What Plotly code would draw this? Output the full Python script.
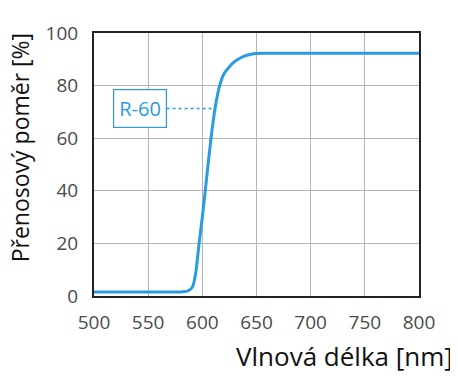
import plotly.graph_objects as go

# Data
wavelength = [500, 520, 540, 560, 575, 582, 587, 591, 594, 597, 600, 604, 608, 612, 616, 620, 625, 630, 635, 640, 645, 650, 655, 660, 700, 750, 800]
transmission = [1.5, 1.5, 1.5, 1.5, 1.5, 1.6, 2.0, 3.5, 9, 20, 30, 45, 60, 72, 80, 84.5, 87.2, 89.2, 90.5, 91.4, 91.9, 92.2, 92.3, 92.3, 92.3, 92.3, 92.3]
x_ticks = [500, 550, 600, 650, 700, 750, 800]
y_ticks = [0, 20, 40, 60, 80, 100]
label_text = "R-60"
label_wl = [567, 611]
label_val = [71.3, 71.3]

blue = "#2a9be0"
font = "Open Sans"

fig = go.Figure()
fig.add_trace(go.Scatter(x=label_wl, y=label_val, mode="lines",
                         line=dict(color=blue, width=1.5, dash="dot"), hoverinfo="skip"))
fig.add_trace(go.Scatter(x=wavelength, y=transmission, mode="lines",
                         line=dict(color=blue, width=3, shape="spline", smoothing=0.6)))

fig.add_annotation(x=label_wl[0], y=label_val[0], xref="x", yref="y", xanchor="right", yanchor="middle",
                   text=label_text, showarrow=False, font=dict(family=font, size=20, color=blue),
                   bordercolor=blue, borderwidth=1.2, borderpad=5, bgcolor="white")

fig.add_annotation(x=-0.225, y=0.565, xref="paper", yref="paper", text="Přenosový poměr [%]",
                   textangle=-90, showarrow=False, font=dict(family=font, size=23, color="#111"),
                   xanchor="center", yanchor="middle")
fig.add_annotation(x=1.11, y=-0.23, xref="paper", yref="paper", text="Vlnová délka [nm]",
                   showarrow=False, font=dict(family=font, size=26, color="#111"),
                   xanchor="right", yanchor="middle")

fig.update_layout(
    width=458, height=376, showlegend=False,
    margin=dict(l=86, r=47, t=23, b=88),
    plot_bgcolor="white", paper_bgcolor="white",
    font=dict(family=font, size=19, color="#555"),
)
fig.update_xaxes(range=[500, 800], tickvals=x_ticks, showgrid=True, gridcolor="#b5b5b5", gridwidth=1,
                 showline=True, linecolor="#222", linewidth=2, mirror=True, ticks="", ticklen=0,
                 ticklabelstandoff=8, zeroline=False, tickfont=dict(size=19, color="#4a4a4a"))
fig.update_yaxes(range=[0, 100], tickvals=y_ticks, showgrid=True, gridcolor="#b5b5b5", gridwidth=1,
                 showline=True, linecolor="#222", linewidth=2, mirror=True, ticks="", ticklen=0,
                 ticklabelstandoff=10, zeroline=False, tickfont=dict(size=19, color="#4a4a4a"))

fig.write_html("out.html")
